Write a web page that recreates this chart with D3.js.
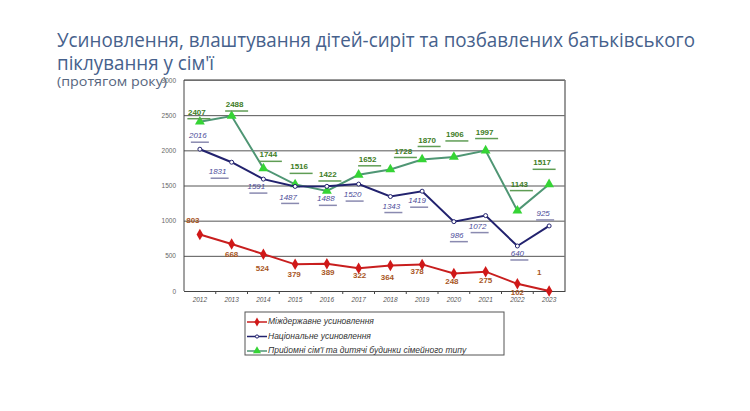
<!DOCTYPE html>
<html>
<head>
<meta charset="utf-8">
<script src="https://cdn.jsdelivr.net/npm/d3@7"></script>
<style>
  body { margin: 0; background: #fff; }
  svg { display: block; }
</style>
</head>
<body>
<script>
const width = 750
const height = 411

// data
const years = ['2012','2013','2014','2015','2016','2017','2018','2019','2020','2021','2022','2023']
const interstate = [803, 668, 524, 379, 389, 322, 364, 378, 248, 275, 102, 1]
const national = [2016, 1831, 1591, 1487, 1488, 1520, 1343, 1419, 986, 1072, 640, 925]
const foster = [2407, 2488, 1744, 1516, 1422, 1652, 1728, 1870, 1906, 1997, 1143, 1517]
const yTicks = [0, 500, 1000, 1500, 2000, 2500, 3000]
const seriesNames = ['Міждержавне усиновлення', 'Національне усиновлення', 'Прийомні сім\'ї та дитячі будинки сімейного типу']

// label nudges (dx, dy from the point)
const fosterOff = [[-3,-9],[3,-11],[5,-13],[4,-17],[1,-16],[9,-15],[13,-18],[5,-19],[1,-22],[-1,-18],[2,-26],[-7,-21]]
const nationalOff = [[-2,-13],[-14,10],[-7,8],[-7,11],[-1,13],[-6,11],[1,10],[-5,10],[3,14],[-8,11],[0,8],[-6,-12]]
const interOff = [[-7,-14],[0,11],[-1,15],[-1,11],[1,9],[1,8],[-3,12],[-5,7],[-2,8],[0,9],[0,9],[-10,-18]]

const svg = d3.select('body').append('svg')
    .attr('width', width)
    .attr('height', height)

// Title
const title = svg.append('g').style('font-family', '"Open Sans", sans-serif').style('fill', '#46618c')
title.append('text').attr('x', 57).attr('y', 47).style('font-size', '19.5px')
    .attr('textLength', 638).attr('lengthAdjust', 'spacingAndGlyphs')
    .text('Усиновлення, влаштування дітей-сиріт та позбавлених батьківського')
title.append('text').attr('x', 57).attr('y', 70).style('font-size', '19.5px')
    .attr('textLength', 157).attr('lengthAdjust', 'spacingAndGlyphs')
    .text('піклування у сім\'ї')
title.append('text').attr('x', 57).attr('y', 86).style('font-size', '12.5px')
    .style('fill', '#56657e')
    .attr('textLength', 110).attr('lengthAdjust', 'spacingAndGlyphs')
    .text('(протягом року)')

// Scales
const x = d3.scaleBand().domain(years).range([184, 565])
const y = d3.scaleLinear().domain([0, 3000]).range([291, 80])
const cx = d => x(d) + x.bandwidth() / 2

// Gridlines + y labels
const yAxis = svg.append('g')
    .attr('transform', 'translate(184,0)')
    .call(d3.axisLeft(y).tickValues(yTicks).tickSize(-381).tickPadding(8).tickFormat(d3.format('d')))
yAxis.select('.domain').remove()
yAxis.selectAll('line').style('stroke', '#555').style('stroke-width', 1)
yAxis.selectAll('text')
    .style('font-family', '"Liberation Sans", Arial, sans-serif')
    .style('font-size', '6.5px')
    .style('fill', '#666')

// plot frame
svg.append('line').attr('x1', 565).attr('x2', 565).attr('y1', y(3000)).attr('y2', y(0))
    .style('stroke', '#777').style('stroke-width', 1.5)
svg.append('line').attr('x1', 184).attr('x2', 565).attr('y1', y(3000)).attr('y2', y(3000))
    .style('stroke', '#777').style('stroke-width', 1.5)
svg.append('line').attr('x1', 184).attr('x2', 184).attr('y1', y(3000)).attr('y2', y(0))
    .style('stroke', '#444').style('stroke-width', 1)

// x axis
const xAxis = svg.append('g')
    .attr('transform', 'translate(0,' + y(0) + ')')
    .call(d3.axisBottom(x).tickSize(0).tickSizeOuter(0).tickPadding(6))
xAxis.select('.domain').style('stroke', '#444')
xAxis.selectAll('text')
    .style('font-family', '"Liberation Sans", Arial, sans-serif')
    .style('font-size', '6.5px')
    .style('font-style', 'italic')
    .style('fill', '#555')
svg.append('g').selectAll('line')
    .data(years.slice(1))
    .join('line')
    .attr('x1', d => x(d)).attr('x2', d => x(d))
    .attr('y1', y(0)).attr('y2', y(0) + 3)
    .style('stroke', '#444')

const line = d3.line().x((d, i) => cx(years[i])).y(d => y(d))

// Foster families (green)
svg.append('path').datum(foster).attr('d', line)
    .style('fill', 'none').style('stroke', '#4f9674').style('stroke-width', 2)
svg.append('g').selectAll('path')
    .data(foster)
    .join('path')
    .attr('d', d3.symbol(d3.symbolTriangle, 42))
    .attr('transform', (d, i) => 'translate(' + cx(years[i]) + ',' + y(d) + ')')
    .style('fill', '#35d435')

// National adoption (navy)
svg.append('path').datum(national).attr('d', line)
    .style('fill', 'none').style('stroke', '#22226e').style('stroke-width', 2)
svg.append('g').selectAll('circle')
    .data(national)
    .join('circle')
    .attr('cx', (d, i) => cx(years[i]))
    .attr('cy', d => y(d))
    .attr('r', 2)
    .style('fill', '#fff').style('stroke', '#22226e').style('stroke-width', 1)

// Interstate adoption (red)
svg.append('path').datum(interstate).attr('d', line)
    .style('fill', 'none').style('stroke', '#c81e1e').style('stroke-width', 2)
svg.append('g').selectAll('path')
    .data(interstate)
    .join('path')
    .attr('d', d3.symbol(d3.symbolDiamond, 38))
    .attr('transform', (d, i) => 'translate(' + cx(years[i]) + ',' + y(d) + ')')
    .style('fill', '#d01818')

// Value labels
function addLabels(values, offs, opts) {
    const g = svg.append('g')
    values.forEach((v, i) => {
        const lx = cx(years[i]) + offs[i][0]
        const ly = y(v) + offs[i][1]
        if (opts.under) {
            g.append('line')
                .attr('x1', lx - opts.uw / 2 + 1).attr('x2', lx + opts.uw / 2 + 3)
                .attr('y1', ly + 6).attr('y2', ly + 6)
                .style('stroke', opts.under).style('stroke-width', 1.5)
        }
        g.append('text')
            .attr('x', lx).attr('y', ly)
            .attr('text-anchor', 'middle')
            .attr('dominant-baseline', 'middle')
            .style('font-family', '"Liberation Sans", Arial, sans-serif')
            .style('font-size', '8px')
            .style('font-weight', opts.bold ? 'bold' : 'normal')
            .style('font-style', opts.italic ? 'italic' : 'normal')
            .style('fill', opts.color)
            .text(v)
    })
}
addLabels(foster, fosterOff, {color: '#3e7d26', bold: true, under: '#5f9d55', uw: 21})
addLabels(national, nationalOff, {color: '#4d4d9a', italic: true, under: '#8a8ab0', uw: 16})
addLabels(interstate, interOff, {color: '#a8561e', bold: true})

// Legend
const legend = svg.append('g')
legend.append('rect')
    .attr('x', 245).attr('y', 312).attr('width', 259).attr('height', 43)
    .style('fill', '#fff').style('stroke', '#555').style('stroke-width', 1)
const legColors = ['#c81e1e', '#22226e', '#4f9674']
const legItems = legend.selectAll('g.item')
    .data(seriesNames)
    .join('g')
    .attr('class', 'item')
    .attr('transform', (d, i) => 'translate(247,' + (322 + i * 14.5) + ')')
legItems.append('line')
    .attr('x1', 0).attr('x2', 20)
    .style('stroke', (d, i) => legColors[i]).style('stroke-width', 1.5)
legItems.each(function(d, i) {
    const g = d3.select(this)
    if (i === 0) g.append('path').attr('d', d3.symbol(d3.symbolDiamond, 24)).attr('transform', 'translate(10,0)').style('fill', '#d01818')
    if (i === 1) g.append('circle').attr('cx', 10).attr('r', 1.6).style('fill', '#fff').style('stroke', '#22226e')
    if (i === 2) g.append('path').attr('d', d3.symbol(d3.symbolTriangle, 28)).attr('transform', 'translate(10,0)').style('fill', '#35d435')
})
legItems.append('text')
    .attr('x', 21).attr('dominant-baseline', 'middle')
    .style('font-family', '"Liberation Sans", Arial, sans-serif')
    .style('font-size', '8.5px')
    .style('font-style', 'italic')
    .style('fill', '#333')
    .text(d => d)
</script>
</body>
</html>
